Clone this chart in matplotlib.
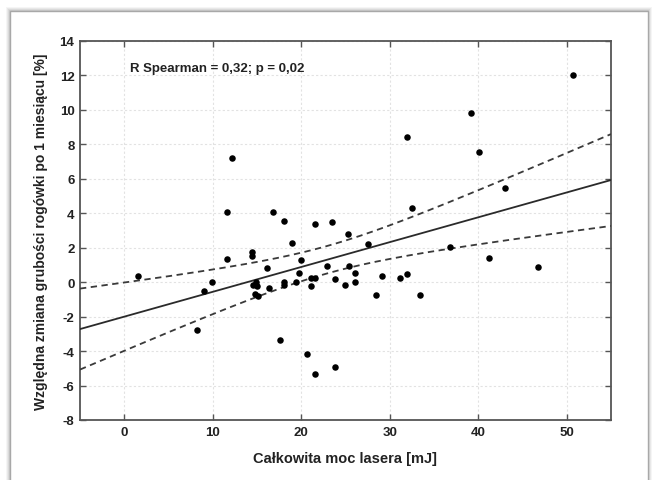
import numpy as np
import matplotlib
matplotlib.use("Agg")
import matplotlib.pyplot as plt
from matplotlib.patches import Rectangle

plt.rcParams["axes.unicode_minus"] = False

laser_mj = [1.5, 9.0, 9.9, 8.24, 11.58, 11.58, 12.14, 14.45, 14.45, 14.6, 14.9, 15.0,
            14.8, 15.1, 16.1, 16.3, 16.85, 18.0, 18.0, 18.0, 17.6, 19.0, 19.4, 19.7,
            20.0, 20.7, 21.1, 21.1, 21.5, 21.6, 21.5, 22.9, 23.5, 23.8, 23.8, 25.0,
            25.3, 25.4, 26.1, 26.1, 27.5, 28.5, 29.1, 31.2, 32.0, 32.0, 32.5, 33.4,
            36.8, 39.15, 40.1, 41.2, 43.0, 46.7, 50.7]
thickness_change = [0.33, -0.54, 0.02, -2.77, 4.08, 1.32, 7.2, 1.76, 1.51, -0.15, 0.0, -0.2,
                    -0.72, -0.8, 0.83, -0.33, 4.04, 3.56, 0.02, -0.15, -3.35, 2.24, 0.02, 0.54,
                    1.26, -4.18, 0.21, -0.21, 3.35, 0.21, -5.32, 0.91, 3.46, 0.17, -4.93, -0.19,
                    2.8, 0.93, 0.54, 0.02, 2.2, -0.73, 0.33, 0.23, 0.44, 8.43, 4.31, -0.73,
                    2.01, 9.83, 7.54, 1.41, 5.47, 0.87, 12.03]

x_ticks = [0, 10, 20, 30, 40, 50]
y_ticks = [-8, -6, -4, -2, 0, 2, 4, 6, 8, 10, 12, 14]
annotation = "R Spearman = 0,32; p = 0,02"
xlabel = "Całkowita moc lasera [mJ]"
ylabel = "Względna zmiana grubości rogówki po 1 miesiącu [%]"

W, H = 653, 481
fig = plt.figure(figsize=(W / 100, H / 100), dpi=100)
fig.patch.set_facecolor("white")

# card with soft shadow, extending past the bottom edge
for i, a in enumerate([0.04, 0.05, 0.06, 0.07]):
    off = 4 - i
    fig.patches.append(Rectangle(((10 - off) / W, -20 / H),
                                 (638 + 2 * off) / W, (489 + off) / H,
                                 transform=fig.transFigure, facecolor="black",
                                 alpha=a, edgecolor="none", zorder=0))
fig.patches.append(Rectangle((10 / W, -20 / H), 638 / W, 489 / H,
                             transform=fig.transFigure, facecolor="white",
                             edgecolor="#a8a8a8", linewidth=1.0, zorder=1))

ax = fig.add_axes([80 / W, (481 - 421) / H, 531 / W, 379.3 / H])
ax.set_zorder(2)
ax.set_xlim(-5, 55)
ax.set_ylim(-8, 14)

x = np.array(laser_mj)
y = np.array(thickness_change)
b, a0 = np.polyfit(x, y, 1)
n = len(x)
resid = y - (a0 + b * x)
s = np.sqrt(np.sum(resid ** 2) / (n - 2))
xs = np.linspace(-5, 55, 200)
t = 2.005
se = s * np.sqrt(1 / n + (xs - x.mean()) ** 2 / np.sum((x - x.mean()) ** 2))
fit = a0 + b * xs

ax.plot(xs, fit, color="#2a2a2a", lw=1.3, zorder=3)
ax.plot(xs, fit + t * se, color="#3a3a3a", lw=1.3, ls=(0, (3.5, 2.5)), zorder=3)
ax.plot(xs, fit - t * se, color="#3a3a3a", lw=1.3, ls=(0, (3.5, 2.5)), zorder=3)
ax.scatter(x, y, s=22, color="black", zorder=4, linewidths=0)

ax.set_xticks(x_ticks)
ax.set_yticks(y_ticks)
ax.grid(True, color="#e2e2e2", lw=0.8, ls=(0, (2, 2)))
ax.set_axisbelow(True)
ax.tick_params(direction="in", length=4, width=1, color="#555555",
               top=True, right=True, labelsize=9.5, labelcolor="#222222", pad=4)
for lab in ax.get_xticklabels() + ax.get_yticklabels():
    lab.set_fontweight("bold")
    lab.set_family("Liberation Sans")
for sp in ax.spines.values():
    sp.set_color("#555555")
    sp.set_linewidth(1.3)

ax.text(0.6, 12.4, annotation, fontsize=9.5, fontweight="bold", family="Liberation Sans",
        color="#222222", va="center", ha="left", zorder=5)
ax.set_xlabel(xlabel, fontsize=10.5, fontweight="bold", family="Liberation Sans",
              color="#222222", labelpad=10)
ax.set_ylabel(ylabel, fontsize=10, fontweight="bold", family="Liberation Sans",
              color="#222222", labelpad=8)

fig.savefig("out.png", dpi=100)
